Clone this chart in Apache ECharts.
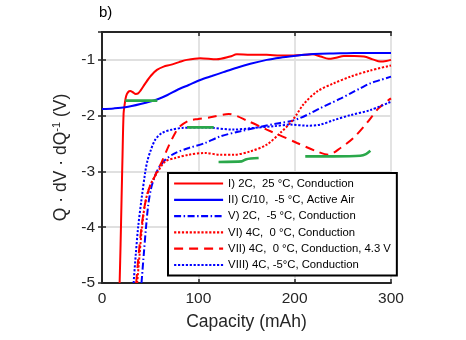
<!DOCTYPE html>
<html><head><meta charset="utf-8">
<script src="https://cdn.jsdelivr.net/npm/echarts@6/dist/echarts.min.js"></script>
<style>html,body{margin:0;padding:0;background:#fff}#c{width:466px;height:340px}</style>
</head><body><div id="c"></div>
<script>
// ---- data ----
const seriesNames = ['I) 2C,  25 °C, Conduction', 'II) C/10,  -5 °C, Active Air', 'V) 2C,  -5 °C, Conduction',
  'VI) 4C,  0 °C, Conduction', 'VII) 4C,  0 °C, Conduction, 4.3 V', 'VIII) 4C, -5°C, Conduction'];
const xTicks = [0, 100, 200, 300];
const yTicks = [-5, -4, -3, -2, -1];

const I_x = [18.3, 19.3, 20.3, 21.2, 22.4, 23.5, 25, 27, 29.4, 32, 35, 37.5, 40, 45, 51, 57, 64, 71, 80, 88, 102, 119, 133, 140, 154, 171, 185, 199, 210, 218, 227, 235, 243, 251, 262, 272, 281, 289, 295, 300];
const I_y = [-5, -4.3, -3.5, -2.8, -1.96, -1.8, -1.65, -1.58, -1.56, -1.58, -1.61, -1.6, -1.55, -1.42, -1.28, -1.18, -1.12, -1.09, -1.04, -1.0, -0.97, -0.99, -0.94, -0.9, -0.91, -0.91, -0.92, -0.92, -0.91, -0.9, -0.94, -0.98, -0.96, -0.93, -0.93, -0.94, -0.99, -1.03, -1.02, -1.0];

const II_x = [0, 12, 24, 40, 57, 68, 78, 90, 102, 114, 126, 140, 154, 171, 185, 199, 213, 227, 240, 254, 270, 285, 300];
const II_y = [-1.88, -1.87, -1.85, -1.79, -1.71, -1.63, -1.54, -1.45, -1.36, -1.29, -1.22, -1.14, -1.07, -1.0, -0.96, -0.93, -0.905, -0.89, -0.885, -0.88, -0.877, -0.875, -0.875];

const V_x = [41, 43.3, 45.7, 48, 51, 55, 58.8, 65.7, 76, 90, 107, 123, 143.6, 164.4, 185, 195.5, 206, 216, 226, 237, 248, 258, 268, 278.5, 289, 300];
const V_y = [-5, -4.5, -4.0, -3.6, -3.3, -3.08, -2.94, -2.79, -2.67, -2.58, -2.49, -2.37, -2.28, -2.2, -2.13, -2.10, -2.04, -1.96, -1.87, -1.78, -1.69, -1.60, -1.51, -1.42, -1.36, -1.30];

const VI_x = [36.5, 39, 41.5, 45, 50, 57, 65.7, 76, 90, 107, 123, 136.7, 154, 171, 185, 195.5, 202, 209, 223, 240.5, 258, 278.5, 300];
const VI_y = [-5, -4.5, -4.0, -3.55, -3.25, -3.03, -2.82, -2.76, -2.70, -2.67, -2.70, -2.70, -2.64, -2.52, -2.31, -2.13, -1.98, -1.80, -1.57, -1.42, -1.30, -1.19, -1.10];

const VII_x = [35.5, 38, 41, 44.5, 49, 54, 57, 62.3, 69, 76, 81, 90, 100, 112.5, 131.5, 152, 171, 187, 202.5, 223, 235, 247.5, 261, 275, 287, 300];
const VII_y = [-5, -4.5, -4.0, -3.6, -3.3, -3.12, -3.0, -2.82, -2.55, -2.31, -2.19, -2.09, -2.06, -2.03, -1.97, -2.1, -2.25, -2.37, -2.49, -2.64, -2.70, -2.58, -2.40, -2.13, -1.87, -1.69];

const VIII_x = [32.8, 35, 37.5, 41, 45, 47, 50.2, 55.3, 62.3, 72.7, 83, 107, 136.7, 157, 178, 195.5, 213, 226.7, 240.5, 258, 278.5, 300];
const VIII_y = [-5, -4.5, -4.0, -3.5, -3.0, -2.82, -2.64, -2.43, -2.31, -2.25, -2.22, -2.21, -2.25, -2.22, -2.19, -2.16, -2.18, -2.16, -2.08, -1.99, -1.90, -1.75];

const G1_x = [24.2, 57.4], G1_y = [-1.73, -1.73];
const G2_x = [88.2, 116], G2_y = [-2.21, -2.21];
const G3_x = [121, 145, 150, 162.6], G3_y = [-2.83, -2.82, -2.78, -2.76];
const G4_x = [211, 240, 268, 274, 278.6], G4_y = [-2.73, -2.73, -2.72, -2.69, -2.63];

// ---- build ----
const zip = (xs, ys) => xs.map((x, i) => [x, ys[i]]);
const RED = '#ff0000', BLUE = '#0000ff', GREEN = '#2aa84a', AX = '#262626';
const DOT = [2.2, 1.7], DASH = [9, 6], DASHDOT = [7, 2.5, 1.5, 2.5];

function line(name, data, color, type, smooth) {
  return { name, type: 'line', data, showSymbol: false, symbol: 'none', smooth: smooth === undefined ? 0.3 : smooth,
    lineStyle: { color, width: 2, type }, itemStyle: { color }, clip: true, z: 3 };
}
const series = [
  line(seriesNames[0], zip(I_x, I_y), RED, 'solid'),
  line(seriesNames[1], zip(II_x, II_y), BLUE, 'solid'),
  line(seriesNames[2], zip(V_x, V_y), BLUE, DASHDOT),
  line(seriesNames[3], zip(VI_x, VI_y), RED, DOT),
  line(seriesNames[4], zip(VII_x, VII_y), RED, DASH),
  line(seriesNames[5], zip(VIII_x, VIII_y), BLUE, DOT),
  line('g1', zip(G1_x, G1_y), GREEN, 'solid', 0.2),
  line('g2', zip(G2_x, G2_y), GREEN, 'solid', 0.2),
  line('g3', zip(G3_x, G3_y), GREEN, 'solid', 0.2),
  line('g4', zip(G4_x, G4_y), GREEN, 'solid', 0.2)
];
series.slice(6).forEach(s => { s.lineStyle.width = 2.6; });

const FONT = 'Liberation Sans, Arial, sans-serif';
const axisCommon = {
  axisLine: { show: true, lineStyle: { color: AX, width: 2 } },
  axisTick: { show: true, inside: true, length: 4, lineStyle: { color: AX, width: 1.5 } }
};
const chart = echarts.init(document.getElementById('c'), null, { renderer: 'canvas' });
chart.setOption({
  animation: false,
  backgroundColor: '#fff',
  grid: { left: 102, right: 75, top: 32, bottom: 57, containLabel: false },
  xAxis: [
    Object.assign({ type: 'value', min: xTicks[0], max: xTicks[xTicks.length - 1], interval: 100, position: 'bottom',
      name: 'Capacity (mAh)', nameLocation: 'middle', nameGap: 30,
      nameTextStyle: { fontFamily: FONT, fontSize: 17.5, color: AX },
      axisLabel: { fontFamily: FONT, fontSize: 15.5, color: AX, margin: 8 },
      splitLine: { show: true, lineStyle: { color: '#e0e0e0', width: 1.8 } } }, axisCommon),
    Object.assign({ type: 'value', min: xTicks[0], max: xTicks[xTicks.length - 1], interval: 100, position: 'top',
      axisLabel: { show: false }, splitLine: { show: false } }, axisCommon)
  ],
  yAxis: [
    Object.assign({ type: 'value', min: yTicks[0], max: -0.5, interval: 1, position: 'left',
      name: '{a|Q · dV · dQ}{b|-1}{a| (V)}', nameLocation: 'middle', nameGap: 24, nameRotate: 90,
      nameTextStyle: { fontFamily: FONT, color: AX,
        rich: { a: { fontFamily: FONT, fontSize: 17.5, color: AX, lineHeight: 20 },
                b: { fontFamily: FONT, fontSize: 11, color: AX, lineHeight: 11, verticalAlign: 'top' } } },
      axisLabel: { fontFamily: FONT, fontSize: 15.5, color: AX, margin: 7, showMaxLabel: false },
      splitLine: { show: true, lineStyle: { color: '#e0e0e0', width: 1.8 } } }, axisCommon),
    Object.assign({ type: 'value', min: yTicks[0], max: -0.5, interval: 1, position: 'right',
      axisLabel: { show: false }, splitLine: { show: false } }, axisCommon)
  ],
  legend: {
    data: seriesNames, orient: 'vertical', left: 168, top: 173,
    padding: [5, 6, 5, 5], itemWidth: 49, itemHeight: 12, itemGap: 5.3,
    itemStyle: { opacity: 0 },
    lineStyle: { width: 2.2 },
    backgroundColor: '#fff', borderColor: '#000', borderWidth: 2,
    textStyle: { fontFamily: FONT, fontSize: 11.3, color: '#000' },
    selectedMode: false, z: 10
  },
  graphic: [{ type: 'text', left: 99, top: 5, style: { text: 'b)', font: '15px Liberation Sans, Arial, sans-serif', fill: '#000' } }],
  series
});
</script></body></html>
